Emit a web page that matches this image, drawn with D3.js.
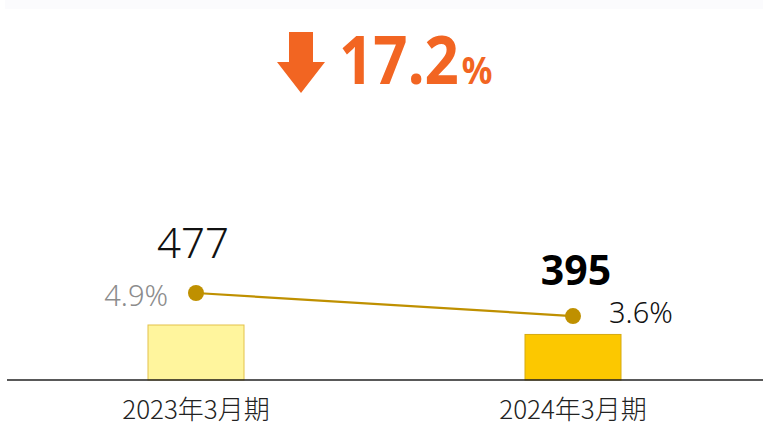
<!DOCTYPE html>
<html>
<head>
<meta charset="utf-8">
<script src="https://cdn.jsdelivr.net/npm/d3@7"></script>
<style>
  body { margin: 0; background: #fff; }
  svg { display: block; font-family: "Noto Sans", "Noto Sans CJK JP", sans-serif; }
</style>
</head>
<body>
<div id="chart"></div>
<script>
// data
var periods = ["2023年3月期", "2024年3月期"];
var amounts = [477, 395];
var ratios = [4.9, 3.6];
var ratioLabels = ["4.9%", "3.6%"];
var changeText = "17.2";

var width = 763, height = 426;
var baseY = 380;

var svg = d3.select("#chart").append("svg")
    .attr("width", width)
    .attr("height", height);

// faint band at the very top
svg.append("rect")
    .attr("x", 5).attr("y", 0)
    .attr("width", width - 5).attr("height", 9)
    .attr("fill", "#fbfbfd");

//
// Scales
//
var x = d3.scalePoint().domain(periods).range([196, 573]);
var yBar = d3.scaleLinear().domain([0, 477]).range([baseY, 325]);
var yPct = d3.scaleLinear().domain([0, 4.9]).range([baseY, 293]);

var barW = 96;
var barFill = ["#fff59d", "#fcc800"];
var barStroke = ["#e3c24a", "#d6aa10"];

svg.selectAll("rect.bar")
    .data(amounts)
    .enter().append("rect")
    .attr("class", "bar")
    .attr("x", function(d, i) { return x(periods[i]) - barW / 2; })
    .attr("y", function(d) { return yBar(d); })
    .attr("width", barW)
    .attr("height", function(d) { return baseY - yBar(d); })
    .attr("fill", function(d, i) { return barFill[i]; })
    .attr("stroke", function(d, i) { return barStroke[i]; })
    .attr("stroke-width", 1);

// baseline
svg.append("line")
    .attr("x1", 7).attr("x2", width)
    .attr("y1", baseY).attr("y2", baseY)
    .attr("stroke", "#222").attr("stroke-width", 1.3);

// category labels
svg.selectAll("text.cat")
    .data(periods)
    .enter().append("text")
    .attr("class", "cat")
    .attr("x", function(d) { return x(d); })
    .attr("y", 419)
    .attr("text-anchor", "middle")
    .attr("font-family", "'Noto Sans CJK JP', sans-serif")
    .attr("font-size", 26)
    .attr("font-weight", 300)
    .attr("fill", "#222")
    .text(function(d) { return d; });

// ratio line
var line = d3.line()
    .x(function(d, i) { return x(periods[i]); })
    .y(function(d) { return yPct(d); });

svg.append("path")
    .datum(ratios)
    .attr("fill", "none")
    .attr("stroke", "#bf9000")
    .attr("stroke-width", 2.2)
    .attr("d", line);

svg.selectAll("circle.pt")
    .data(ratios)
    .enter().append("circle")
    .attr("class", "pt")
    .attr("cx", function(d, i) { return x(periods[i]); })
    .attr("cy", function(d) { return yPct(d); })
    .attr("r", 8)
    .attr("fill", "#bf9000");

// ratio labels
svg.append("text")
    .attr("x", x(periods[0]) - 28)
    .attr("y", yPct(ratios[0]) + 13)
    .attr("text-anchor", "end")
    .attr("font-size", 29)
    .attr("font-weight", 300)
    .attr("fill", "#8c8c8c")
    .text(ratioLabels[0]);

svg.append("text")
    .attr("x", x(periods[1]) + 36)
    .attr("y", yPct(ratios[1]) + 7)
    .attr("text-anchor", "start")
    .attr("font-size", 29)
    .attr("font-weight", 300)
    .attr("fill", "#111")
    .text(ratioLabels[1]);

// amount labels
svg.append("text")
    .attr("x", x(periods[0]) - 3)
    .attr("y", 258)
    .attr("text-anchor", "middle")
    .attr("font-size", 42)
    .attr("font-weight", 300)
    .attr("fill", "#111")
    .text(amounts[0]);

svg.append("text")
    .attr("x", x(periods[1]) + 3)
    .attr("y", 285)
    .attr("text-anchor", "middle")
    .attr("font-size", 41)
    .attr("font-weight", 700)
    .attr("fill", "#000")
    .text(amounts[1]);

// headline: down arrow + change
var orange = "#f26522";
svg.append("path")
    .attr("d", "M289,32 L313,32 L313,62 L325,62 L301,93 L277,62 L289,62 Z")
    .attr("fill", orange);

var head = svg.append("text")
    .attr("transform", "translate(339,84) scale(1,1.1)")
    .attr("fill", orange)
    .attr("font-weight", 700);
head.append("tspan")
    .attr("font-size", 60)
    .text(changeText);
head.append("tspan")
    .attr("font-size", 34)
    .attr("dx", 3)
    .text("%");
</script>
</body>
</html>
